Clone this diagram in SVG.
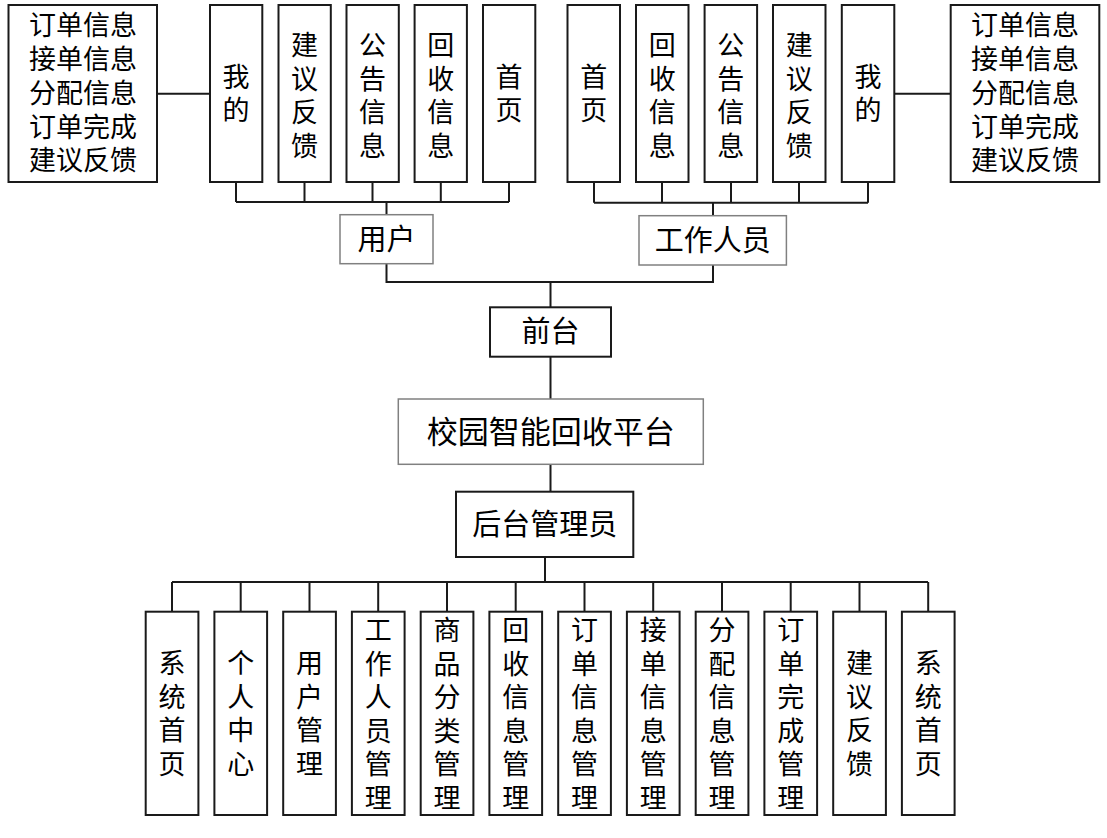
<svg xmlns="http://www.w3.org/2000/svg" width="1107" height="838" viewBox="0 0 1107 838">
<style>
.box{fill:#ffffff;stroke:#1a1a1a;stroke-width:2}
.gbox{fill:#ffffff;stroke:#808080;stroke-width:1.5}
.sh{fill:none;stroke:#e6edf5;stroke-width:3}
.t{font-family:"Noto Sans CJK SC","Noto Sans CJK JP",sans-serif;font-size:27px;fill:#000;text-anchor:middle}
.tb{font-family:"Noto Sans CJK SC","Noto Sans CJK JP",sans-serif;font-size:29px;fill:#000;text-anchor:middle}
.tl{font-family:"Noto Sans CJK SC","Noto Sans CJK JP",sans-serif;font-size:31px;fill:#000;text-anchor:middle}
.c{fill:none;stroke:#1a1a1a;stroke-width:2}
</style>
<rect width="1107" height="838" fill="#ffffff"/>
<g id="connectors">
<path class="c" d="M157,93.7H210"/>
<path class="c" d="M236,182V202M304.5,182V202M372.5,182V202M440.8,182V202M509,182V202M236,202H509M386.5,202V214.7"/>
<path class="c" d="M386.5,263.7V282H713V265"/>
<path class="c" d="M594,182V202.7M662,182V202.7M731,182V202.7M799,182V202.7M868,182V202.7M594,202.7H868M713,202.7V215.7"/>
<path class="c" d="M894.3,93.7H950.7"/>
<path class="c" d="M550.5,282V307.3M550.5,356.7V399M550.5,464.3V491.7"/>
<path class="c" d="M545,557V582M172,582H928"/>
<path class="c" d="M172,582V611.7M240.7,582V611.7M309.5,582V611.7M378.2,582V611.7M447,582V611.7M515.7,582V611.7M584.5,582V611.7M653.2,582V611.7M722,582V611.7M790.7,582V611.7M859.5,582V611.7M928.2,582V611.7"/>
</g>
<g id="left-info">
<rect class="box" x="8.5" y="5" width="148.5" height="177"/>
<text class="t" x="83"><tspan x="83" y="35">订单信息</tspan><tspan x="83" y="69">接单信息</tspan><tspan x="83" y="103">分配信息</tspan><tspan x="83" y="137">订单完成</tspan><tspan x="83" y="170">建议反馈</tspan></text>
</g>
<g id="u-mine"><rect class="box" x="210" y="5" width="52.3" height="177"/><text class="t"><tspan x="236" y="87">我</tspan><tspan x="236" y="120">的</tspan></text></g>
<g id="u-feedback"><rect class="box" x="278.5" y="5" width="52.3" height="177"/><text class="t"><tspan x="304.6" y="55">建</tspan><tspan x="304.6" y="88.5">议</tspan><tspan x="304.6" y="122">反</tspan><tspan x="304.6" y="155.5">馈</tspan></text></g>
<g id="u-notice"><rect class="box" x="346.5" y="5" width="52.3" height="177"/><text class="t"><tspan x="372.6" y="55">公</tspan><tspan x="372.6" y="88.5">告</tspan><tspan x="372.6" y="122">信</tspan><tspan x="372.6" y="155.5">息</tspan></text></g>
<g id="u-recycle"><rect class="box" x="414.6" y="5" width="52.3" height="177"/><text class="t"><tspan x="440.8" y="55">回</tspan><tspan x="440.8" y="88.5">收</tspan><tspan x="440.8" y="122">信</tspan><tspan x="440.8" y="155.5">息</tspan></text></g>
<g id="u-home"><rect class="box" x="483" y="5" width="52.3" height="177"/><text class="t"><tspan x="509.1" y="87">首</tspan><tspan x="509.1" y="120">页</tspan></text></g>
<g id="w-home"><rect class="box" x="567.5" y="5" width="52.5" height="177"/><text class="t"><tspan x="593.8" y="87">首</tspan><tspan x="593.8" y="120">页</tspan></text></g>
<g id="w-recycle"><rect class="box" x="636" y="5" width="52.5" height="177"/><text class="t"><tspan x="662.2" y="55">回</tspan><tspan x="662.2" y="88.5">收</tspan><tspan x="662.2" y="122">信</tspan><tspan x="662.2" y="155.5">息</tspan></text></g>
<g id="w-notice"><rect class="box" x="704.6" y="5" width="52.5" height="177"/><text class="t"><tspan x="730.8" y="55">公</tspan><tspan x="730.8" y="88.5">告</tspan><tspan x="730.8" y="122">信</tspan><tspan x="730.8" y="155.5">息</tspan></text></g>
<g id="w-feedback"><rect class="box" x="773" y="5" width="52.5" height="177"/><text class="t"><tspan x="799.2" y="55">建</tspan><tspan x="799.2" y="88.5">议</tspan><tspan x="799.2" y="122">反</tspan><tspan x="799.2" y="155.5">馈</tspan></text></g>
<g id="w-mine"><rect class="box" x="841.8" y="5" width="52.5" height="177"/><text class="t"><tspan x="868" y="87">我</tspan><tspan x="868" y="120">的</tspan></text></g>
<g id="right-info">
<rect class="box" x="950.7" y="5" width="148.6" height="177"/>
<text class="t"><tspan x="1025" y="35">订单信息</tspan><tspan x="1025" y="69">接单信息</tspan><tspan x="1025" y="103">分配信息</tspan><tspan x="1025" y="137">订单完成</tspan><tspan x="1025" y="170">建议反馈</tspan></text>
</g>
<g id="user"><rect class="gbox" x="340" y="214.7" width="93" height="49"/><text class="tb" x="386.5" y="249.5">用户</text></g>
<g id="worker"><rect class="gbox" x="639" y="215.7" width="147.4" height="49.3"/><text class="tb" x="712.7" y="250.5">工作人员</text></g>
<g id="front"><rect class="box" x="490" y="307.3" width="121" height="49.4"/><text class="tb" x="550.5" y="342">前台</text></g>
<g id="platform"><rect class="gbox" x="398.3" y="399" width="305" height="65.3"/><text class="tl" x="550.8" y="443">校园智能回收平台</text></g>
<g id="admin"><rect class="box" x="456" y="491.7" width="177.3" height="65.3"/><text class="tb" x="544.7" y="535">后台管理员</text></g>
<g id="a1"><rect class="box" x="145.7" y="611.7" width="52.7" height="203.3"/><text class="t"><tspan x="172" y="673">系</tspan><tspan x="172" y="706.5">统</tspan><tspan x="172" y="740">首</tspan><tspan x="172" y="773.5">页</tspan></text></g>
<g id="a2"><rect class="box" x="214.4" y="611.7" width="52.7" height="203.3"/><text class="t"><tspan x="240.7" y="673">个</tspan><tspan x="240.7" y="706.5">人</tspan><tspan x="240.7" y="740">中</tspan><tspan x="240.7" y="773.5">心</tspan></text></g>
<g id="a3"><rect class="box" x="283.2" y="611.7" width="52.7" height="203.3"/><text class="t"><tspan x="309.5" y="673">用</tspan><tspan x="309.5" y="706.5">户</tspan><tspan x="309.5" y="740">管</tspan><tspan x="309.5" y="773.5">理</tspan></text></g>
<g id="a4"><rect class="box" x="351.9" y="611.7" width="52.7" height="203.3"/><text class="t"><tspan x="378.2" y="640">工</tspan><tspan x="378.2" y="673.5">作</tspan><tspan x="378.2" y="707">人</tspan><tspan x="378.2" y="740.5">员</tspan><tspan x="378.2" y="774">管</tspan><tspan x="378.2" y="807.5">理</tspan></text></g>
<g id="a5"><rect class="box" x="420.7" y="611.7" width="52.7" height="203.3"/><text class="t"><tspan x="447" y="640">商</tspan><tspan x="447" y="673.5">品</tspan><tspan x="447" y="707">分</tspan><tspan x="447" y="740.5">类</tspan><tspan x="447" y="774">管</tspan><tspan x="447" y="807.5">理</tspan></text></g>
<g id="a6"><rect class="box" x="489.4" y="611.7" width="52.7" height="203.3"/><text class="t"><tspan x="515.7" y="640">回</tspan><tspan x="515.7" y="673.5">收</tspan><tspan x="515.7" y="707">信</tspan><tspan x="515.7" y="740.5">息</tspan><tspan x="515.7" y="774">管</tspan><tspan x="515.7" y="807.5">理</tspan></text></g>
<g id="a7"><rect class="box" x="558.2" y="611.7" width="52.7" height="203.3"/><text class="t"><tspan x="584.5" y="640">订</tspan><tspan x="584.5" y="673.5">单</tspan><tspan x="584.5" y="707">信</tspan><tspan x="584.5" y="740.5">息</tspan><tspan x="584.5" y="774">管</tspan><tspan x="584.5" y="807.5">理</tspan></text></g>
<g id="a8"><rect class="box" x="626.9" y="611.7" width="52.7" height="203.3"/><text class="t"><tspan x="653.2" y="640">接</tspan><tspan x="653.2" y="673.5">单</tspan><tspan x="653.2" y="707">信</tspan><tspan x="653.2" y="740.5">息</tspan><tspan x="653.2" y="774">管</tspan><tspan x="653.2" y="807.5">理</tspan></text></g>
<g id="a9"><rect class="box" x="695.7" y="611.7" width="52.7" height="203.3"/><text class="t"><tspan x="722" y="640">分</tspan><tspan x="722" y="673.5">配</tspan><tspan x="722" y="707">信</tspan><tspan x="722" y="740.5">息</tspan><tspan x="722" y="774">管</tspan><tspan x="722" y="807.5">理</tspan></text></g>
<g id="a10"><rect class="box" x="764.4" y="611.7" width="52.7" height="203.3"/><text class="t"><tspan x="790.7" y="640">订</tspan><tspan x="790.7" y="673.5">单</tspan><tspan x="790.7" y="707">完</tspan><tspan x="790.7" y="740.5">成</tspan><tspan x="790.7" y="774">管</tspan><tspan x="790.7" y="807.5">理</tspan></text></g>
<g id="a11"><rect class="box" x="833.2" y="611.7" width="52.7" height="203.3"/><text class="t"><tspan x="859.5" y="673">建</tspan><tspan x="859.5" y="706.5">议</tspan><tspan x="859.5" y="740">反</tspan><tspan x="859.5" y="773.5">馈</tspan></text></g>
<g id="a12"><rect class="box" x="901.9" y="611.7" width="52.7" height="203.3"/><text class="t"><tspan x="928.2" y="673">系</tspan><tspan x="928.2" y="706.5">统</tspan><tspan x="928.2" y="740">首</tspan><tspan x="928.2" y="773.5">页</tspan></text></g>
</svg>
